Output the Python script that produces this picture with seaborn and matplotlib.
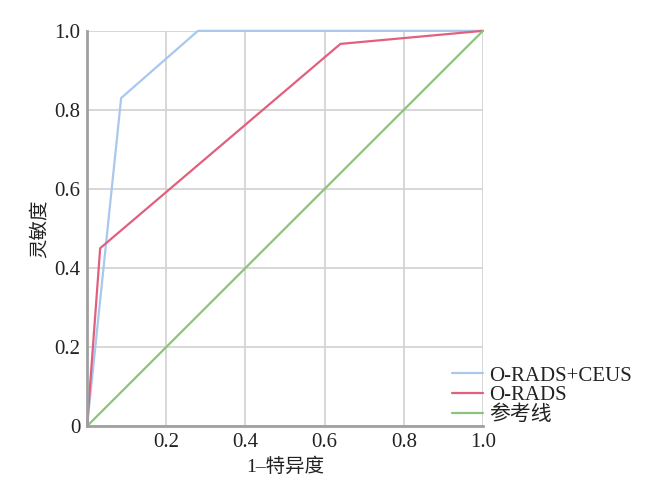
import pandas as pd
import seaborn as sns
import matplotlib.pyplot as plt

# ROC points
fpr_combo = [0.0, 0.086, 0.28, 1.0]
tpr_combo = [0.0, 0.83, 1.0, 1.0]
fpr_orads = [0.0, 0.033, 0.64, 1.0]
tpr_orads = [0.0, 0.45, 0.967, 1.0]
fpr_ref = [0.0, 1.0]
tpr_ref = [0.0, 1.0]

labels = ["O-RADS+CEUS", "O-RADS", "参考线"]
colors = ["#a8c8ec", "#e0607e", "#8cc47c"]

x_ticks = [0.2, 0.4, 0.6, 0.8, 1.0]
x_tick_labels = ["0.2", "0.4", "0.6", "0.8", "1.0"]
y_ticks = [0.0, 0.2, 0.4, 0.6, 0.8, 1.0]
y_tick_labels = ["0", "0.2", "0.4", "0.6", "0.8", "1.0"]

df = pd.concat([
    pd.DataFrame({"fpr": fpr_combo, "tpr": tpr_combo, "curve": labels[0]}),
    pd.DataFrame({"fpr": fpr_orads, "tpr": tpr_orads, "curve": labels[1]}),
    pd.DataFrame({"fpr": fpr_ref, "tpr": tpr_ref, "curve": labels[2]}),
], ignore_index=True)

sns.set_theme(style="white")
plt.rcParams["font.family"] = ["Liberation Serif", "Noto Sans CJK SC"]

fig = plt.figure(figsize=(6.5, 4.82), dpi=100)
ax = fig.add_axes([0.134, 0.116, 0.609, 0.82])

sns.lineplot(data=df, x="fpr", y="tpr", hue="curve", palette=colors,
             sort=False, estimator=None, linewidth=1.6, ax=ax)
for line in ax.get_lines():
    line.set_clip_on(False)

ax.set_xlim(0, 1)
ax.set_ylim(0, 1)
ax.set_xticks(x_ticks)
ax.set_xticklabels(x_tick_labels)
ax.set_yticks(y_ticks)
ax.set_yticklabels(y_tick_labels)
ax.tick_params(labelsize=15, length=0, pad=5, colors="#222222")
ax.grid(True, color="#d4d4d4", linewidth=1.3)
ax.set_axisbelow(True)

for side in ["top", "right"]:
    ax.spines[side].set_visible(False)
for side in ["left", "bottom"]:
    ax.spines[side].set_color("#a0a0a0")
    ax.spines[side].set_linewidth(2)

ax.set_xlabel("1–特异度", fontsize=14, color="#222222", labelpad=4)
ax.set_ylabel("灵敏度", fontsize=14, color="#222222", labelpad=4)

leg = ax.legend(loc="lower left", bbox_to_anchor=(0.9, -0.018), frameon=False,
                fontsize=15, handlelength=1.5, handletextpad=0.3,
                labelspacing=0.0, borderaxespad=0.0)
for t in leg.get_texts():
    t.set_color("#222222")

fig.savefig("out.png", dpi=100)
